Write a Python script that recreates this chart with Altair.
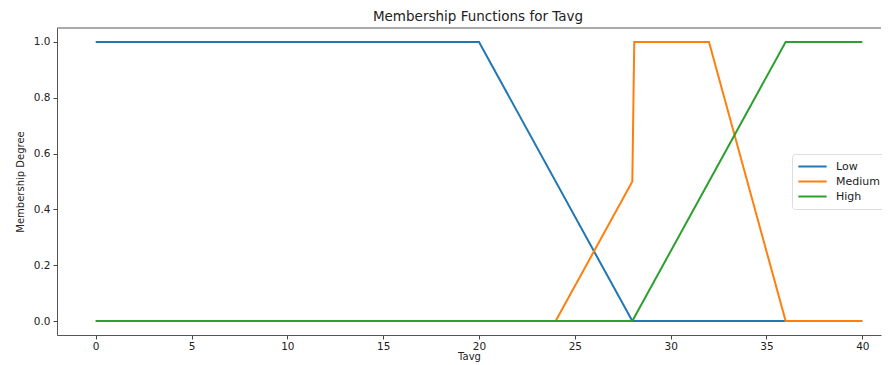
import altair as alt
import pandas as pd

low_x = [0, 20, 28, 40]
low_y = [1, 1, 0, 0]
med_x = [0, 24, 28, 28.1, 32, 36, 40]
med_y = [0, 0, 0.5, 1, 1, 0, 0]
high_x = [0, 28, 36, 40]
high_y = [0, 0, 1, 1]
series = ["Low", "Medium", "High"]
colors = ["#1f77b4", "#ff7f0e", "#2ca02c"]
x_ticks = [0, 5, 10, 15, 20, 25, 30, 35, 40]
y_ticks = [0.0, 0.2, 0.4, 0.6, 0.8, 1.0]

rows = []
for name, xs, ys in [("Low", low_x, low_y), ("Medium", med_x, med_y), ("High", high_x, high_y)]:
    for i, (x, y) in enumerate(zip(xs, ys)):
        rows.append({"Tavg": x, "deg": y, "set": name, "i": i})
df = pd.DataFrame(rows)

W, H = 824, 307
font = "DejaVu Sans"

lines = alt.Chart(df).mark_line(strokeWidth=2, clip=True).encode(
    x=alt.X("Tavg:Q",
            scale=alt.Scale(domain=[-2.02, -2.02 + W / 19.165], nice=False, zero=False),
            axis=alt.Axis(values=x_ticks, title="Tavg", grid=False, format="d",
                          labelFontSize=10.5, titleFontSize=10, titleFontWeight="normal",
                          labelColor="#222", titleColor="#222", tickColor="#444",
                          domainColor="#555", tickSize=4, labelPadding=2, titlePadding=0,
                          labelFont=font, titleFont=font)),
    y=alt.Y("deg:Q",
            scale=alt.Scale(domain=[-0.05, 1.05], nice=False, zero=False),
            axis=alt.Axis(values=y_ticks, title="Membership Degree", grid=False, format=".1f",
                          labelFontSize=10.5, titleFontSize=10, titleFontWeight="normal",
                          labelColor="#222", titleColor="#222", tickColor="#444",
                          domainColor="#555", tickSize=4, labelPadding=3, titlePadding=8,
                          labelFont=font, titleFont=font)),
    color=alt.Color("set:N", scale=alt.Scale(domain=series, range=colors),
                    legend=alt.Legend(title=None, orient="none", legendX=735, legendY=126,
                                      symbolType="stroke", symbolSize=800, symbolStrokeWidth=2,
                                      clipHeight=15, rowPadding=0, labelFontSize=11,
                                      labelFont=font, labelColor="#222", labelOffset=8,
                                      padding=5, strokeColor="#ddd", fillColor="white",
                                      cornerRadius=3)),
    order="i:Q",
    detail="set:N",
)

top_spine = alt.Chart(pd.DataFrame({"a": [0]})).mark_rule(color="#555", strokeWidth=1).encode(
    x=alt.value(0), x2=alt.value(W), y=alt.value(0)
)

chart = alt.layer(lines, top_spine).properties(
    width=W, height=H,
    autosize=alt.AutoSizeParams(type="none"),
    padding={"left": 49, "top": 20, "right": 1, "bottom": 29},
    title=alt.TitleParams("Membership Functions for Tavg", fontSize=13.5, font=font,
                          fontWeight="normal", color="#222", anchor="middle", dx=9, offset=4),
).configure_view(stroke=None)

chart.save("out.html", embed_options={"renderer": "svg", "actions": False})
